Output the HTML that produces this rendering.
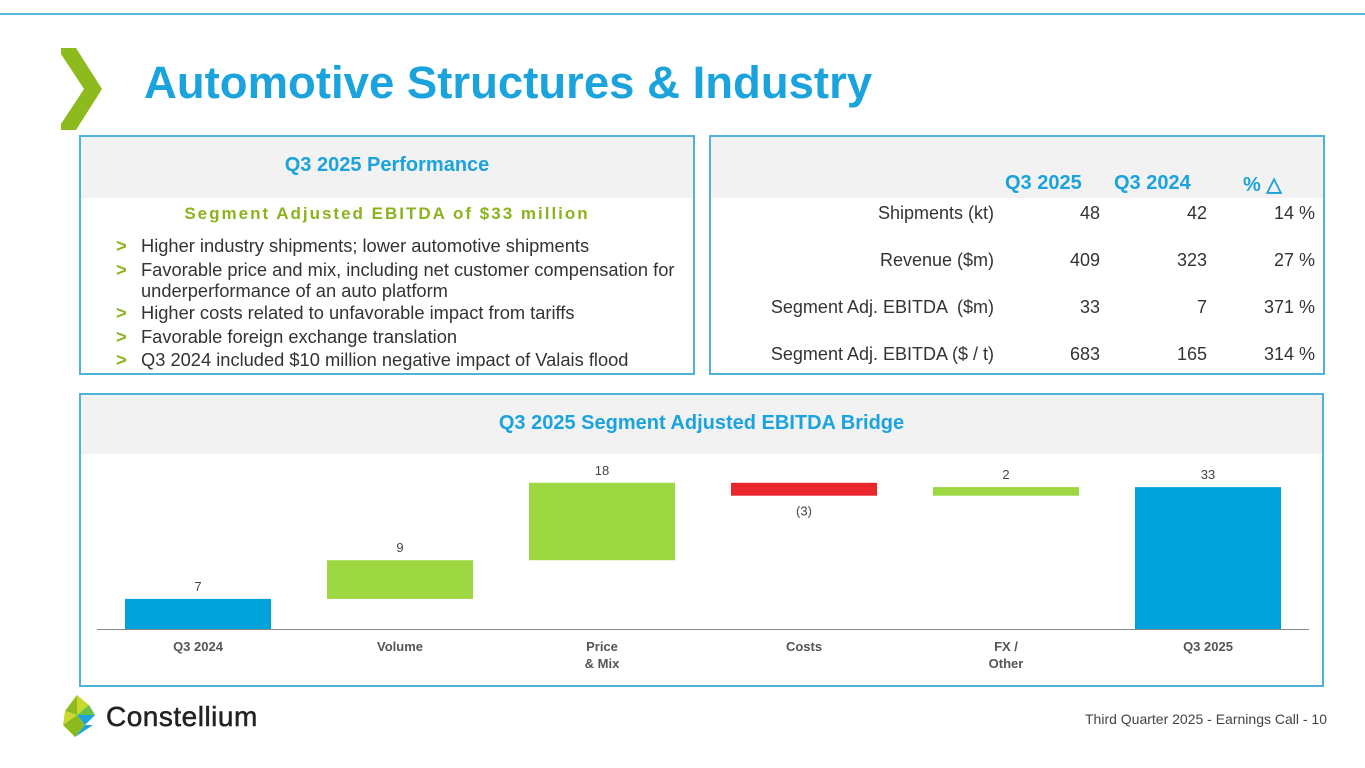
<!DOCTYPE html>
<html><head><meta charset="utf-8">
<style>
body{margin:0;width:1365px;height:768px;background:#fff;font-family:"Liberation Sans",Arial,sans-serif;position:relative;overflow:hidden}
.abs{position:absolute}
.box{position:absolute;border:2px solid #4db3d9;box-sizing:border-box}
.hdr{background:#f2f2f2;color:#1aa3dc;font-weight:bold;font-size:20px;text-align:center}
.bul{font-size:18.3px;color:#333;line-height:23.5px}
.bul b{color:#8bb31c;display:inline-block;width:25px}
.tr{position:absolute;font-size:18px;color:#333;text-align:right}
</style></head><body>
<div class="abs" style="left:0;top:13px;width:1365px;height:2px;background:#5bb8dd"></div>
<svg class="abs" style="left:60px;top:48px" width="44" height="84"><polygon points="1,0 16,0 42,41 16,82 1,82 1,76 24,41 1,6" fill="#8dba1c"/></svg>
<div class="abs" style="left:144px;top:57px;font-size:45.5px;font-weight:bold;color:#1aa3dc">Automotive Structures &amp; Industry</div>

<div class="box" style="left:79px;top:135px;width:616px;height:240px">
 <div class="hdr" style="height:61px;line-height:56px">Q3 2025 Performance</div>
 <div style="text-align:center;color:#8bb31c;font-weight:bold;font-size:17px;letter-spacing:2px;margin-top:6px">Segment Adjusted EBITDA of $33 million</div>
 <div class="bul" style="padding-left:35px;margin-top:10px">
  <div><b>&gt;</b>Higher industry shipments; lower automotive shipments</div>
  <div><b>&gt;</b>Favorable price and mix, including net customer compensation for</div>
  <div style="padding-left:25px;line-height:20px">underperformance of an auto platform</div>
  <div><b>&gt;</b>Higher costs related to unfavorable impact from tariffs</div>
  <div><b>&gt;</b>Favorable foreign exchange translation</div>
  <div><b>&gt;</b>Q3 2024 included $10 million negative impact of Valais flood</div>
 </div>
</div>

<div class="box" style="left:709px;top:135px;width:616px;height:240px">
 <div class="hdr" style="height:61px"></div>
</div>
<div class="abs" style="left:1005px;top:172px;font-size:20px;font-weight:bold;color:#1aa3dc">Q3 2025</div>
<div class="abs" style="left:1114px;top:172px;font-size:20px;font-weight:bold;color:#1aa3dc">Q3 2024</div>
<div class="abs" style="left:1243px;top:172px;font-size:20px;font-weight:bold;color:#1aa3dc">% △</div>
<div id="rows"></div>

<div class="box" style="left:79px;top:393px;width:1245px;height:294px">
 <div class="hdr" style="height:59px;line-height:56px">Q3 2025 Segment Adjusted EBITDA Bridge</div>
</div>
<svg class="abs" id="chart" style="left:0;top:0" width="1365" height="768"></svg>

<svg class="abs" style="left:63px;top:695px" width="36" height="44">
<polygon points="14,0 2,16 14,20" fill="#8dba1c"/><polygon points="14,0 26,10 14,20" fill="#c8d92c"/>
<polygon points="2,16 14,20 0,30" fill="#c8d92c"/><polygon points="14,20 32,20 22,30" fill="#1aa3dc"/><polygon points="14,20 26,10 32,20" fill="#6cc04a"/>
<polygon points="0,30 14,20 22,30 12,42" fill="#8dba1c"/><polygon points="22,30 12,42 30,30" fill="#1aa3dc"/></svg>
<div class="abs" style="left:106px;top:701px;font-size:28px;color:#222;letter-spacing:0.5px;-webkit-text-stroke:0.5px #222">Constellium</div>
<div class="abs" style="left:1085px;top:711px;font-size:14px;color:#444">Third Quarter 2025 - Earnings Call - 10</div>

<script>
const rowLabels=["Shipments (kt)","Revenue ($m)","Segment Adj. EBITDA  ($m)","Segment Adj. EBITDA ($ / t)"];
const q25=["48","409","33","683"];
const q24=["42","323","7","165"];
const pct=["14 %","27 %","371 %","314 %"];
const R=document.getElementById('rows');
rowLabels.forEach((l,i)=>{
 const y=203+i*47;
 const cells=[[l,600,994],[q25[i],1000,1100],[q24[i],1100,1207],[pct[i],1200,1315]];
 const names=['row-label','q3-2025-value','q3-2024-value','pct-change-value'];
 cells.forEach((c,j)=>{const d=document.createElement('div');d.className='tr';
 
 
 d.style.left=c[1]+'px';d.style.width=(c[2]-c[1])+'px';d.style.top=y+'px';d.style.whiteSpace='pre';d.textContent=c[0];R.appendChild(d);});
});

const cats=["Q3 2024","Volume","Price\n& Mix","Costs","FX /\nOther","Q3 2025"];
const deltas=[7,9,18,-3,2,33];
const types=["total","delta","delta","delta","delta","total"];
const labels=["7","9","18","(3)","2","33"];
const NS="http://www.w3.org/2000/svg";
const svg=document.getElementById('chart');
const base=629,scale=4.3,x0=198,step=202,bw=146;
const y=v=>base-v*scale;
const xc=i=>x0+i*step;
function mk(t,a){const e=document.createElementNS(NS,t);for(const k in a)e.setAttribute(k,a[k]);svg.appendChild(e);return e;}
let run=0;
deltas.forEach((d,i)=>{
 let a,b,col;
 if(types[i]==="total"){a=0;b=d;run=d;col="#00a3dc";}
 else{a=run;b=run+d;run=b;col=d>=0?"#9dd843":"#e8262b";}
 const r=mk('rect',{x:xc(i)-bw/2,y:y(Math.max(a,b)),width:bw,height:Math.abs(b-a)*scale,fill:col});
 
 
 const ly=d>=0?y(Math.max(a,b))-8:y(Math.min(a,b))+20;
 const t=mk('text',{x:xc(i),y:ly,'text-anchor':'middle','font-size':13,fill:'#444','font-family':'Liberation Sans'});
 t.textContent=labels[i];
 
 
 cats[i].split("\n").forEach((s,k)=>{
  const c=mk('text',{x:xc(i),y:651+k*17,'text-anchor':'middle','font-size':13,'font-weight':'bold',fill:'#555','font-family':'Liberation Sans'});
  c.textContent=s;
  
  
 });
});
const ax=mk('line',{x1:97,x2:1309,y1:base+0.5,y2:base+0.5,stroke:'#888','stroke-width':1});


</script>
</body></html>
